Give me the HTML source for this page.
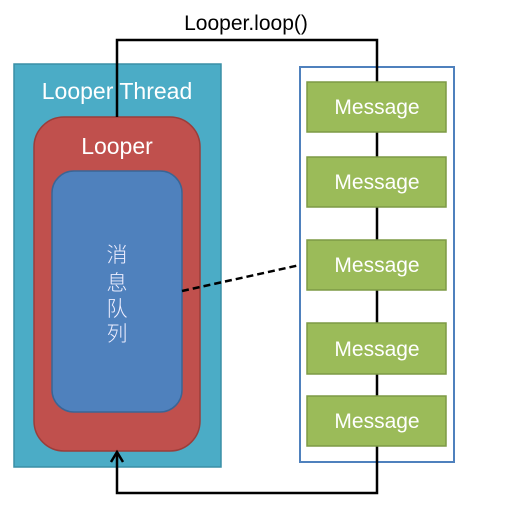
<!DOCTYPE html>
<html><head><style>body{margin:0;background:#fff}</style></head><body>
<svg width="512" height="506" xmlns="http://www.w3.org/2000/svg" font-family="Liberation Sans, Noto Sans CJK SC, sans-serif">
<rect x="14" y="64" width="207" height="403" fill="#4bacc6" stroke="#3a8fa6" stroke-width="1.5"/>
<rect x="34" y="117" width="166" height="334" rx="30" fill="#c0504d" stroke="#9b3d3a" stroke-width="1.5"/>
<rect x="52" y="171" width="130" height="241" rx="22" fill="#4f81bd" stroke="#3a6595" stroke-width="1.5"/>
<text x="117" y="99" fill="#fff" font-size="23" text-anchor="middle">Looper Thread</text>
<text x="117" y="154" fill="#fff" font-size="23" text-anchor="middle">Looper</text>
<g fill="#eef" font-size="21" font-weight="300" text-anchor="middle" font-family="Noto Sans CJK SC, sans-serif">
<text x="117" y="262">消</text><text x="117" y="290">息</text><text x="117" y="316">队</text><text x="117" y="341">列</text></g>
<rect x="300" y="67" width="154" height="395" fill="#fff" stroke="#4f81bd" stroke-width="2"/>
<path d="M117 117 V40 H377 V82 M377 132 V157 M377 207 V240 M377 290 V323 M377 374 V396 M377 446 V493 H117 V453" fill="none" stroke="#000" stroke-width="2.5"/>
<path d="M111 462 L117 452 L123 462" fill="none" stroke="#000" stroke-width="2.5"/>
<line x1="182" y1="291" x2="300" y2="265" stroke="#000" stroke-width="2.5" stroke-dasharray="7,4"/>
<g fill="#9bbb59" stroke="#7d9a45" stroke-width="1.5">
<rect x="307" y="82" width="139" height="50"/><rect x="307" y="157" width="139" height="50"/><rect x="307" y="240" width="139" height="50"/><rect x="307" y="323" width="139" height="51"/><rect x="307" y="396" width="139" height="50"/></g>
<g fill="#fff" font-size="21" text-anchor="middle">
<text x="377" y="114">Message</text><text x="377" y="189">Message</text><text x="377" y="272">Message</text><text x="377" y="356">Message</text><text x="377" y="428">Message</text></g>
<text x="246" y="30" font-size="21" text-anchor="middle" fill="#000">Looper.loop()</text>
</svg>
</body></html>
